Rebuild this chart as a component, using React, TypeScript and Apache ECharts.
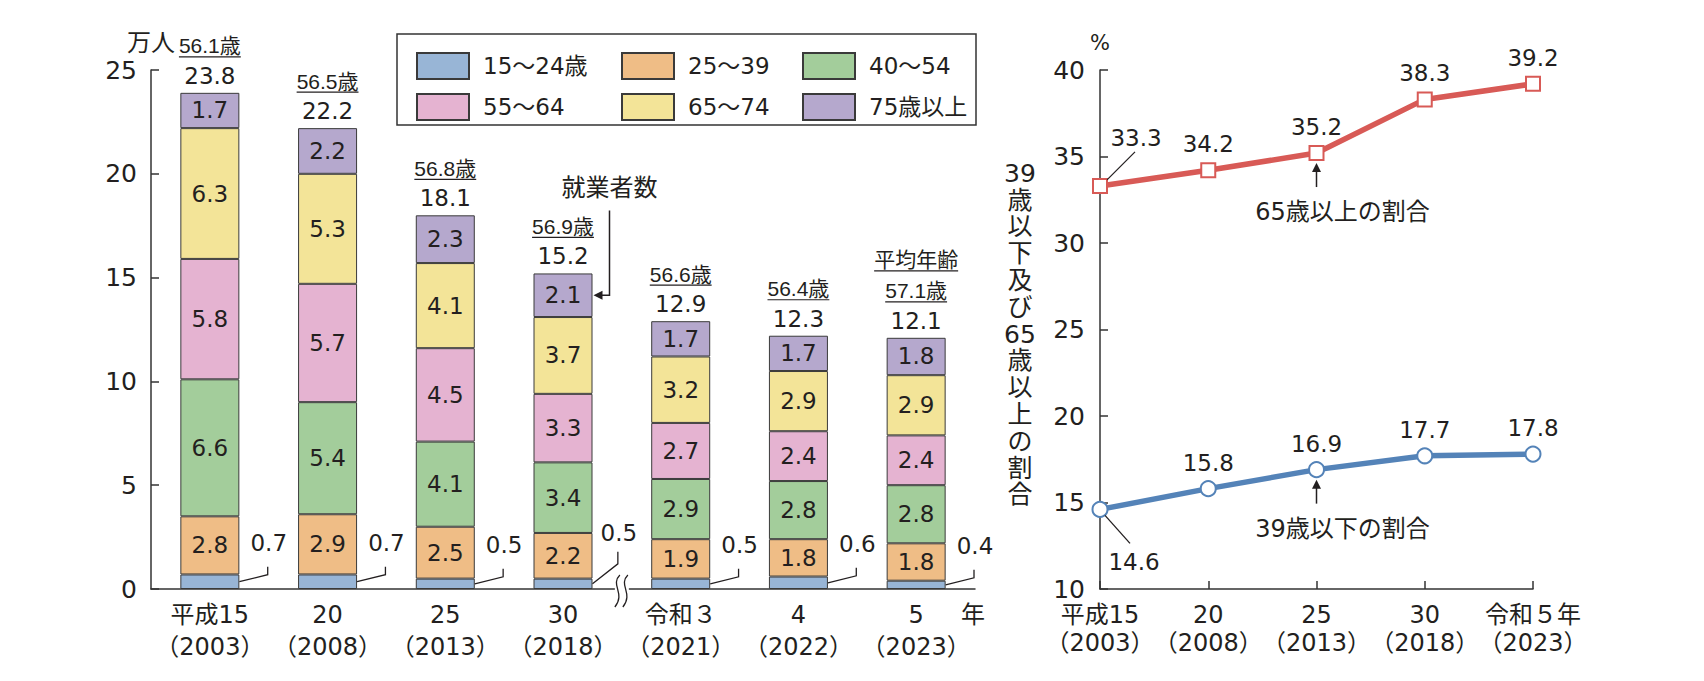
import React, { useEffect, useRef } from "react";
import * as echarts from "echarts";

const FONT = "'DejaVu Sans', 'Noto Sans CJK JP', sans-serif";
const NARROW = "'Liberation Sans', 'Noto Sans CJK JP', sans-serif";
const TEXT = "#231f20";
const AXIS = "#333333";

// ---- left chart data (万人) ----
const categories = [
  "平成15\n（2003）",
  "20\n（2008）",
  "25\n（2013）",
  "30\n（2018）",
  "令和３\n（2021）",
  "4\n（2022）",
  "5\n（2023）",
];
const ageGroups = ["15～24歳", "25～39", "40～54", "55～64", "65～74", "75歳以上"];
const age15to24 = [0.7, 0.7, 0.5, 0.5, 0.5, 0.6, 0.4];
const age25to39 = [2.8, 2.9, 2.5, 2.2, 1.9, 1.8, 1.8];
const age40to54 = [6.6, 5.4, 4.1, 3.4, 2.9, 2.8, 2.8];
const age55to64 = [5.8, 5.7, 4.5, 3.3, 2.7, 2.4, 2.4];
const age65to74 = [6.3, 5.3, 4.1, 3.7, 3.2, 2.9, 2.9];
const age75plus = [1.7, 2.2, 2.3, 2.1, 1.7, 1.7, 1.8];
const totals = [23.8, 22.2, 18.1, 15.2, 12.9, 12.3, 12.1];
const averageAges = [56.1, 56.5, 56.8, 56.9, 56.6, 56.4, 57.1];
const yTicksLeft = { min: 0, max: 25, interval: 5 };

// ---- right chart data (%) ----
const lineCategories = [
  "平成15\n（2003）",
  "20\n（2008）",
  "25\n（2013）",
  "30\n（2018）",
  "令和５年\n（2023）",
];
const share65plus = [33.3, 34.2, 35.2, 38.3, 39.2];
const share39under = [14.6, 15.8, 16.9, 17.7, 17.8];
const yTicksRight = { min: 10, max: 40, interval: 5 };

const segColors = ["#98b5d6", "#efbd86", "#a3cd9b", "#e5b3d1", "#f3e498", "#b5a8cd"];
const RED = "#d85a56";
const BLUE = "#5483b8";
const BAR_W = 59;

const segments = [age15to24, age25to39, age40to54, age55to64, age65to74, age75plus];
const stackTops = categories.map((_, i) => segments.reduce((s, a) => s + a[i], 0));

let measureCtx: CanvasRenderingContext2D | null = null;
function measure(text: string, size: number, family: string) {
  if (!measureCtx) {
    const c = document.createElement("canvas");
    measureCtx = c.getContext("2d");
  }
  if (!measureCtx) return text.length * size * 0.6;
  measureCtx.font = `${size}px ${family}`;
  return measureCtx.measureText(text).width;
}

function txt(x: number, y: number, text: string, size = 23, family = FONT) {
  return {
    type: "text",
    x,
    y,
    style: {
      text,
      fill: TEXT,
      fontSize: size,
      fontFamily: family,
      align: "center",
      verticalAlign: "middle",
      textAlign: "center",
      textVerticalAlign: "middle",
    },
  };
}
function ln(x1: number, y1: number, x2: number, y2: number, w = 1.3) {
  return { type: "line", shape: { x1, y1, x2, y2 }, style: { stroke: TEXT, lineWidth: w } };
}
function underlined(x: number, y: number, text: string, size: number) {
  const w = measure(text, size, NARROW);
  return [txt(x, y, text, size, NARROW), ln(x - w / 2, y + 11, x + w / 2, y + 11, 1.2)];
}

function renderBarNotes(params: any, api: any) {
  const i = api.value(0);
  const top = api.value(1);
  const [cx, yTop] = api.coord([i, top]);
  const [, y0] = api.coord([i, 0]);
  const band = api.size([1, 0])[0];
  const half = BAR_W / 2;
  const children: any[] = [];
  children.push(txt(cx, yTop - 17, totals[i].toFixed(1), 23));
  children.push(...underlined(cx, yTop - 47, averageAges[i].toFixed(1) + "歳", 21));
  if (i === categories.length - 1) {
    children.push(...underlined(cx, yTop - 78, "平均年齢", 21));
  }
  // leader for 15~24 label
  const [, yMid] = api.coord([i, age15to24[i] / 2]);
  const bx = cx + band / 2 - 1;
  if (i === 3) {
    children.push({
      type: "polyline",
      shape: { points: [[cx + half, yMid], [bx - 3, yMid - 20], [bx - 3, yMid - 32]] },
      style: { stroke: TEXT, lineWidth: 1.3, fill: "none" },
    });
    children.push(txt(bx - 2, yMid - 51, age15to24[i].toFixed(1), 23));
    // break mark on the axis
    const xb = cx + band / 2;
    children.push({
      type: "rect",
      shape: { x: xb - 7, y: y0 - 10, width: 14, height: 13 },
      style: { fill: "#ffffff", stroke: "none" },
    });
    for (const dx of [-4, 4]) {
      children.push({
        type: "bezierCurve",
        shape: {
          x1: xb + dx + 2, y1: y0 - 14,
          cpx1: xb + dx - 8, cpy1: y0 - 4,
          cpx2: xb + dx + 8, cpy2: y0 + 4,
          x2: xb + dx - 3, y2: y0 + 18,
        },
        style: { stroke: TEXT, lineWidth: 1.3, fill: "none" },
      });
    }
    // 就業者数 annotation
    const [, yPurple] = api.coord([i, top - age75plus[i] / 2]);
    const ax = cx + half + 17;
    children.push(txt(ax, yTop - 85, "就業者数", 24));
    children.push({
      type: "polyline",
      shape: { points: [[ax, yTop - 63], [ax, yPurple], [cx + half + 6, yPurple]] },
      style: { stroke: TEXT, lineWidth: 1.5, fill: "none" },
    });
    children.push({
      type: "polygon",
      shape: { points: [[cx + half + 1, yPurple], [cx + half + 10, yPurple - 4.5], [cx + half + 10, yPurple + 4.5]] },
      style: { fill: TEXT, stroke: "none" },
    });
  } else {
    children.push({
      type: "polyline",
      shape: { points: [[cx + half, yMid], [bx, yMid - 7], [bx, yMid - 15]] },
      style: { stroke: TEXT, lineWidth: 1.3, fill: "none" },
    });
    children.push(txt(bx + 1, yMid - 39, age15to24[i].toFixed(1), 23));
  }
  return { type: "group", children };
}

function makeLineNotes(kind: "red" | "blue") {
  return (params: any, api: any) => {
    const i = api.value(0);
    const v = api.value(1);
    const [x, y] = api.coord([i, v]);
    const children: any[] = [];
    if (i === 0) {
      if (kind === "red") {
        children.push(ln(x + 7, y - 6, x + 35, y - 34));
        children.push(txt(x + 36, y - 48, v.toFixed(1), 23));
      } else {
        children.push(ln(x + 5, y + 6, x + 30, y + 34));
        children.push(txt(x + 34, y + 53, v.toFixed(1), 23));
      }
    } else {
      children.push(txt(x, y - 26, v.toFixed(1), 23));
    }
    if (i === 2) {
      const tip = y + 10;
      children.push(ln(x, y + 34, x, tip + 6, 1.5));
      children.push({
        type: "polygon",
        shape: { points: [[x, tip], [x - 4.5, tip + 9], [x + 4.5, tip + 9]] },
        style: { fill: TEXT, stroke: "none" },
      });
      children.push(txt(x + 26, y + 59, kind === "red" ? "65歳以上の割合" : "39歳以下の割合", 24));
    }
    return { type: "group", children };
  };
}

const axisLineStyle = { color: AXIS, width: 1.5 };
const axisLabelBase = { color: TEXT, fontFamily: FONT };

function buildOption() {
  const barSeries = ageGroups.map((name, k) => ({
    name,
    type: "bar",
    stack: "total",
    xAxisIndex: 0,
    yAxisIndex: 0,
    barWidth: BAR_W,
    data: segments[k],
    itemStyle: { color: segColors[k], borderColor: "#3a3a3a", borderWidth: 1 },
    label: {
      show: k > 0,
      position: "inside",
      fontSize: 23,
      color: TEXT,
      fontFamily: FONT,
      formatter: (p: any) => Number(p.value).toFixed(1),
    },
    emphasis: { disabled: true },
  }));

  const legendCommon = {
    orient: "vertical",
    top: 47,
    itemWidth: 52,
    itemHeight: 26,
    itemGap: 13,
    icon: "rect",
    selectedMode: false,
    textStyle: { fontSize: 23, color: TEXT, fontFamily: FONT, padding: [0, 0, 0, 9] },
  };

  return {
    animation: false,
    textStyle: { fontFamily: FONT },
    grid: [
      { left: 151, top: 70, width: 824, height: 519 },
      { left: 1100, top: 70, width: 433, height: 519 },
    ],
    legend: [
      { ...legendCommon, left: 411, data: [ageGroups[0], ageGroups[3]] },
      { ...legendCommon, left: 616, data: [ageGroups[1], ageGroups[4]] },
      { ...legendCommon, left: 797, data: [ageGroups[2], ageGroups[5]] },
    ],
    xAxis: [
      {
        gridIndex: 0,
        type: "category",
        data: categories,
        boundaryGap: true,
        axisLine: { lineStyle: axisLineStyle },
        axisTick: { inside: true, length: 8, interval: 0, lineStyle: axisLineStyle },
        axisLabel: { ...axisLabelBase, interval: 0, fontSize: 24, lineHeight: 32, margin: 10 },
      },
      {
        gridIndex: 1,
        type: "category",
        data: lineCategories,
        boundaryGap: false,
        axisLine: { lineStyle: axisLineStyle },
        axisTick: { inside: true, length: 8, interval: 0, lineStyle: axisLineStyle },
        axisLabel: { ...axisLabelBase, interval: 0, fontSize: 24, lineHeight: 28, margin: 12 },
      },
    ],
    yAxis: [
      {
        gridIndex: 0,
        type: "value",
        ...yTicksLeft,
        name: "万人",
        nameLocation: "end",
        nameGap: 27,
        nameTextStyle: { fontSize: 24, color: TEXT, fontFamily: FONT, align: "center", verticalAlign: "middle" },
        axisLine: { show: true, lineStyle: axisLineStyle },
        axisTick: { show: true, inside: true, length: 8, lineStyle: axisLineStyle },
        splitLine: { show: false },
        axisLabel: { ...axisLabelBase, fontSize: 25, margin: 14 },
      },
      {
        gridIndex: 1,
        type: "value",
        ...yTicksRight,
        name: "%",
        nameLocation: "end",
        nameGap: 27,
        nameTextStyle: { fontSize: 21, color: TEXT, fontFamily: FONT, align: "center", verticalAlign: "middle" },
        axisLine: { show: true, lineStyle: axisLineStyle },
        axisTick: { show: true, inside: true, length: 8, lineStyle: axisLineStyle },
        splitLine: { show: false },
        axisLabel: { ...axisLabelBase, fontSize: 25, margin: 15 },
      },
    ],
    series: [
      ...barSeries,
      {
        name: "notes",
        type: "custom",
        xAxisIndex: 0,
        yAxisIndex: 0,
        silent: true,
        z: 10,
        data: categories.map((_, i) => [i, stackTops[i]]),
        renderItem: renderBarNotes,
      },
      {
        name: "65歳以上の割合",
        type: "line",
        xAxisIndex: 1,
        yAxisIndex: 1,
        data: share65plus,
        symbol: "rect",
        symbolSize: 14,
        lineStyle: { color: RED, width: 5.5 },
        itemStyle: { color: "#ffffff", borderColor: RED, borderWidth: 2 },
        emphasis: { disabled: true },
        z: 3,
      },
      {
        name: "39歳以下の割合",
        type: "line",
        xAxisIndex: 1,
        yAxisIndex: 1,
        data: share39under,
        symbol: "circle",
        symbolSize: 15,
        lineStyle: { color: BLUE, width: 5.5 },
        itemStyle: { color: "#ffffff", borderColor: BLUE, borderWidth: 2 },
        emphasis: { disabled: true },
        z: 3,
      },
      {
        name: "redNotes",
        type: "custom",
        xAxisIndex: 1,
        yAxisIndex: 1,
        silent: true,
        z: 10,
        data: share65plus.map((v, i) => [i, v]),
        renderItem: makeLineNotes("red"),
      },
      {
        name: "blueNotes",
        type: "custom",
        xAxisIndex: 1,
        yAxisIndex: 1,
        silent: true,
        z: 10,
        data: share39under.map((v, i) => [i, v]),
        renderItem: makeLineNotes("blue"),
      },
    ],
    graphic: [
      {
        type: "rect",
        shape: { x: 397, y: 34, width: 579, height: 91 },
        style: { fill: "none", stroke: AXIS, lineWidth: 1.5 },
        z: 0,
      },
      {
        type: "text",
        x: 973,
        y: 615,
        style: {
          text: "年",
          fill: TEXT,
          fontSize: 24,
          fontFamily: FONT,
          align: "center",
          verticalAlign: "middle",
          textAlign: "center",
          textVerticalAlign: "middle",
        },
      },
      {
        type: "text",
        x: 1020,
        y: 334,
        style: {
          text: ["39", "歳", "以", "下", "及", "び", "65", "歳", "以", "上", "の", "割", "合"].join("\n"),
          fill: TEXT,
          fontSize: 25,
          lineHeight: 26.8,
          fontFamily: FONT,
          align: "center",
          verticalAlign: "middle",
          textAlign: "center",
          textVerticalAlign: "middle",
        },
      },
    ],
  };
}

export default function App() {
  const ref = useRef<HTMLDivElement>(null);
  useEffect(() => {
    document.body.style.margin = "0";
    if (!ref.current) return;
    const chart = echarts.init(ref.current, undefined, { renderer: "svg" });
    chart.setOption(buildOption() as any);
    return () => chart.dispose();
  }, []);
  return <div ref={ref} style={{ width: 1704, height: 681, background: "#ffffff" }} />;
}
